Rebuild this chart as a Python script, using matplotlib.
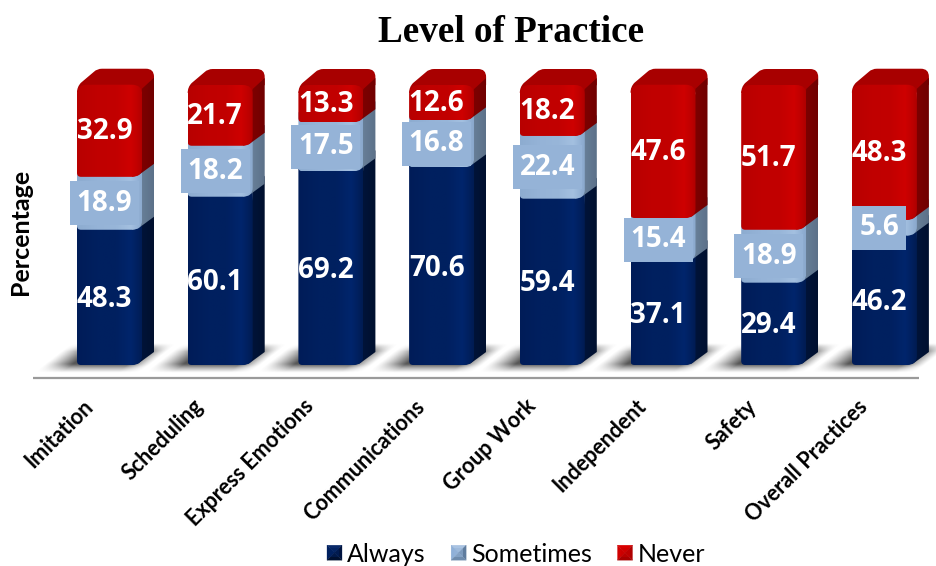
import numpy as np
import matplotlib
matplotlib.use('Agg')
import matplotlib.pyplot as plt
from matplotlib.path import Path
from matplotlib.patches import PathPatch, Patch, Polygon, Rectangle
from matplotlib.colors import LinearSegmentedColormap
from matplotlib.legend_handler import HandlerBase

# Data
categories = ['Imitation', 'Scheduling', 'Express Emotions', 'Communications',
              'Group Work', 'Independent', 'Safety', 'Overall Practices']
always = [48.3, 60.1, 69.2, 70.6, 59.4, 37.1, 29.4, 46.2]
sometimes = [18.9, 18.2, 17.5, 16.8, 22.4, 15.4, 18.9, 5.6]
never = [32.9, 21.7, 13.3, 12.6, 18.2, 47.6, 51.7, 48.3]

# Scale of the plot in pixels
W, H = 936, 566
PX_X = 110.7   # pixels per category
PX_Y = 2.8     # pixels per percent
X0 = 109.5     # pixel of the first category
Y0 = 365       # pixel of 0 %


def sx(px):
    return px / PX_X


def sy(px):
    return px / PX_Y


BAR_W = sx(65)
DX = sx(12)
DY = sy(13)
CAP = sy(16)

# front stops, side stops, cap colour
colors = {
    'Always': (['#001c58', '#00205f', '#002060', '#00256c', '#00205f', '#001c52'],
               ['#001a4c', '#001338', '#00102e'], '#001a50'),
    'Sometimes': (['#8dacd0', '#95b3d7', '#98b6d9', '#a4c0e0', '#95b3d7', '#8aa8cc'],
                  ['#7c94ae', '#667d96', '#5c7189'], '#8ba7c8'),
    'Never': (['#b80000', '#c00000', '#c20000', '#ce0000', '#c00000', '#b00000'],
              ['#880000', '#7c0000', '#700000'], '#a80000'),
}
front_pos = [0, 0.3, 0.6, 0.82, 0.92, 1]

fig = plt.figure(figsize=(W / 100, H / 100), dpi=100)
ax = fig.add_axes([0, 0, 1, 1])
ax.axis('off')


def gradient(ax, stops, x0, x1, y0, y1, clip, z):
    cmap = LinearSegmentedColormap.from_list('g', stops)
    img = ax.imshow(np.linspace(0, 1, 128).reshape(1, -1), cmap=cmap, aspect='auto',
                    extent=(x0, x1, y0, y1), zorder=z, interpolation='bilinear')
    img.set_clip_path(clip)


def front_path(x0, x1, y0, y1, round_top):
    rx, ry = sx(10), sy(9)
    lx, ly = sx(4), sy(4)
    v = [(x0, y0 + ly), (x0, y0), (x0 + lx, y0), (x1 - rx, y0), (x1, y0), (x1, y0 + ry)]
    c = [Path.MOVETO, Path.CURVE3, Path.CURVE3, Path.LINETO, Path.CURVE3, Path.CURVE3]
    if round_top:
        v += [(x1, y1 - ry), (x1, y1), (x1 - rx, y1), (x0 + rx, y1), (x0, y1), (x0, y1 - ry)]
        c += [Path.LINETO, Path.CURVE3, Path.CURVE3, Path.LINETO, Path.CURVE3, Path.CURVE3]
    else:
        v += [(x1, y1), (x0, y1)]
        c += [Path.LINETO, Path.LINETO]
    v.append((x0, y0 + ly))
    c.append(Path.CLOSEPOLY)
    return Path(v, c)


def draw_segment(ax, i, y0, y1, name, is_top, z):
    front, side, cap = colors[name]
    x0, x1 = i - BAR_W / 2, i + BAR_W / 2
    rx = sx(10)
    if is_top:
        r = sx(8)
        ry = sy(8)
        top = y1 + CAP
        v = [(x0, y1 - sy(8)), (x0, y1 - sy(2)), (x0 + sx(4), y1 + sy(2)),
             (x0 + sx(17), top - sy(3)), (x0 + sx(20), top), (x0 + sx(25), top),
             (x1 + DX - r, top), (x1 + DX, top), (x1 + DX, top - ry),
             (x1 + DX, y1), (x1, y1 - sy(8)), (x0, y1 - sy(8))]
        c = [Path.MOVETO, Path.CURVE3, Path.CURVE3, Path.LINETO, Path.CURVE3, Path.CURVE3,
             Path.LINETO, Path.CURVE3, Path.CURVE3, Path.LINETO, Path.LINETO, Path.CLOSEPOLY]
        ax.add_patch(PathPatch(Path(v, c), fc=cap, ec='none', zorder=z))
        end_r, end_f = top - sy(9), y1 - sy(4)
    else:
        # runs on under the next segment so that no gap opens at the join
        top = y1 + DY + sy(8)
        end_r, end_f = top, y1 + sy(8)
    # side face
    sp = Polygon([(x1 - rx, y0), (x1 - sx(3), y0 + sy(2)), (x1 + DX, y0 + DY),
                  (x1 + DX, end_r), (x1, end_f)],
                 closed=True, fc='none', ec='none', zorder=z)
    ax.add_patch(sp)
    gradient(ax, side, x1 - rx, x1 + DX, y0, top, sp, z + 0.1)
    # front face
    yf = y1 if is_top else y1 + sy(10)
    fp = PathPatch(front_path(x0, x1, y0, yf, is_top), fc='none', ec='none', zorder=z)
    ax.add_patch(fp)
    gradient(ax, list(zip(front_pos, front)), x0, x1, y0, yf, fp, z + 0.2)


def draw_shadow(ax, i):
    # soft slanted shadow lying on the floor behind and left of the column
    xs = np.linspace(i - sx(80), i + sx(90), 170)
    ys = np.linspace(sy(-12), sy(30), 50)
    xx, yy = np.meshgrid(xs, ys)
    shear = sx(32) / sy(25)
    uu = xx - (yy - sy(-2)) * shear

    def ramp(d, w):
        return np.clip(d / w, 0, 1) ** 1.2

    fade_v = ramp(yy - sy(-8), sy(9)) * ramp(sy(22) - yy, sy(8))
    fade_u = ramp(uu - (i - sx(68)), sx(28)) * ramp((i + sx(38)) - uu, sx(22))
    rgba = np.zeros(xx.shape + (4,))
    rgba[..., :3] = 0.22
    rgba[..., 3] = 0.85 * fade_v * fade_u
    ax.imshow(rgba, aspect='auto', origin='lower', extent=(xs[0], xs[-1], ys[0], ys[-1]),
              zorder=1, interpolation='bilinear')


# shadows on the floor
for i in range(len(categories)):
    draw_shadow(ax, i)

# stacked columns
names = ['Always', 'Sometimes', 'Never']
val_font = dict(color='white', fontsize=20, fontweight='bold', family='Open Sans',
                ha='center', va='center', zorder=8)
for i in range(len(categories)):
    b1 = always[i]
    b2 = b1 + sometimes[i]
    b3 = b2 + never[i]
    draw_segment(ax, i, 0, b1, 'Always', False, 2)
    draw_segment(ax, i, b1, b2, 'Sometimes', False, 3)
    draw_segment(ax, i, b2, b3, 'Never', True, 4)

    tx = i - sx(5)
    s_label = f'{sometimes[i]:.1f}'
    box_w = sx(69 if len(s_label) > 3 else 54)
    s_mid = b1 + sometimes[i] / 2
    ax.add_patch(Rectangle((tx - box_w / 2, s_mid - sy(22)), box_w, sy(44),
                           fc='#95b3d7', ec='none', zorder=7))
    ax.text(tx, b1 / 2 - sy(2), f'{always[i]:.1f}', **val_font)
    ax.text(tx, s_mid, s_label, **val_font)
    ax.text(tx, b2 + never[i] / 2 - sy(1), f'{never[i]:.1f}', **val_font)

    ax.text(i - sx(20), sy(-38), categories[i], rotation=45, rotation_mode='anchor',
            ha='right', va='center', fontsize=15.5, fontweight='bold', family='Lato',
            color='black')

# floor line
ax.plot([(33 - X0) / PX_X, (919 - X0) / PX_X], [sy(-13), sy(-13)], color='#9a9a9a', lw=1.6,
        zorder=1, solid_capstyle='butt')

ax.set_xlim(-X0 / PX_X, (W - X0) / PX_X)
ax.set_ylim(-(H - Y0) / PX_Y, Y0 / PX_Y)

fig.text(511 / W, 1 - 32 / H, 'Level of Practice', ha='center', va='center', fontsize=26.7,
         fontweight='bold', family='Liberation Serif')
fig.text(21 / W, 1 - 232 / H, 'Percentage', rotation=90, ha='center', va='center',
         fontsize=18, fontweight='bold', family='Lato')


class PyramidHandler(HandlerBase):
    def create_artists(self, legend, orig, xd, yd, w, h, fontsize, trans):
        top, left, right, bottom, mid = orig.shades
        s = min(w, h)
        x, y = -xd + (w - s) / 2, -yd + (h - s) / 2
        a, b, c, d = (x, y), (x + s, y), (x + s, y + s), (x, y + s)
        e = (x + s / 2, y + s / 2)
        out = []
        for pts, col in [((d, c, e), top), ((a, d, e), left), ((b, c, e), right), ((a, b, e), bottom)]:
            out.append(Polygon(pts, closed=True, fc=col, ec=col, lw=0.2, transform=trans))
        k = s * 0.2
        out.append(Rectangle((x + k, y + k), s - 2 * k, s - 2 * k, fc=mid, ec='none', alpha=0.55,
                             transform=trans))
        return out


handles = []
for n, shades in zip(names, [('#0a2a6a', '#00205f', '#001440', '#001030', '#00205f'),
                             ('#a9c3e2', '#8fb0d8', '#5f7c9e', '#6f8cad', '#95b3d7'),
                             ('#d80000', '#d00000', '#b00000', '#a80000', '#c80000')]):
    p = Patch(label=n)
    p.shades = shades
    handles.append(p)

fig.legend(handles=handles, loc='center', bbox_to_anchor=(516 / W, 1 - 554 / H), ncol=3,
           frameon=False, handler_map={Patch: PyramidHandler()},
           prop={'family': 'Lato', 'size': 18}, handlelength=0.6, handleheight=0.6,
           handletextpad=0.2, columnspacing=1.02, borderpad=0)

fig.savefig('out.png', dpi=100)
